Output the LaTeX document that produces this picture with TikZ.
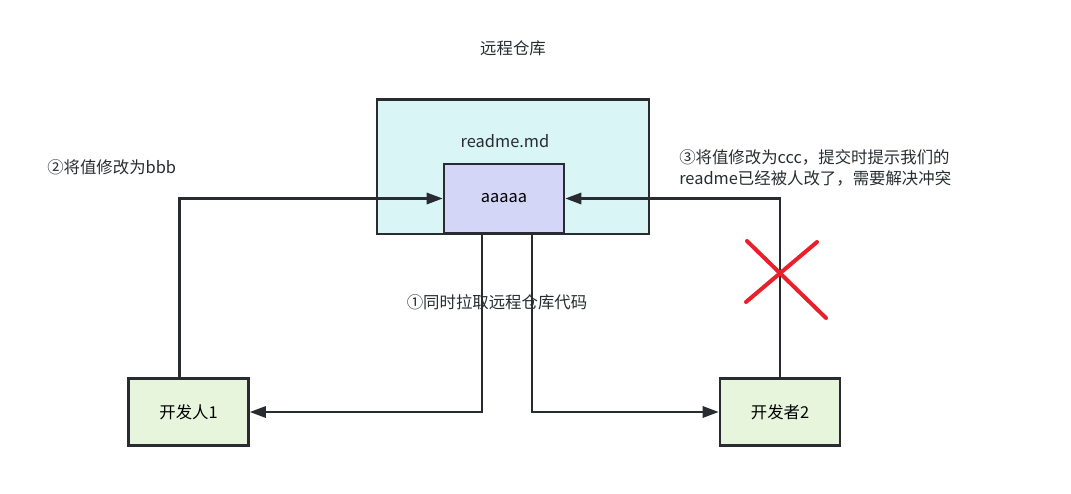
\documentclass[tikz,border=0pt]{standalone}
\usepackage{fontspec}
\setmainfont{Noto Sans CJK SC}
\usetikzlibrary{positioning,calc,arrows.meta}

\definecolor{repoFill}{RGB}{218,245,245}
\definecolor{fileFill}{RGB}{212,214,248}
\definecolor{devFill}{RGB}{230,245,220}
\definecolor{edge}{RGB}{40,44,48}
\definecolor{crossRed}{RGB}{232,32,42}

\begin{document}
\begin{tikzpicture}[
  x=0.75pt, y=-0.75pt,
  font=\fontsize{12.3}{15.75}\selectfont,
  box/.style={draw=edge, line width=2pt, align=center, inner sep=0pt},
  repo/.style={box, fill=repoFill, minimum width=204pt, minimum height=101pt},
  file/.style={box, fill=fileFill, minimum width=90pt, minimum height=52pt},
  dev/.style={box, fill=devFill, minimum width=90pt, minimum height=50pt},
  note/.style={text=edge, align=left, inner sep=0pt},
  arr/.style={-{Triangle[length=12pt,width=8.5pt]}, draw=edge, line width=1.6pt},
  cross/.style={draw=crossRed, line width=3pt, line cap=round}
]
\useasboundingbox (0,0) rectangle (1071,493);

\node[note] (repoTitle) at (513,48) {远程仓库};
\node[repo] (repo) at (513,166.5) {};
\node[note] (fileName) at (505,141) {readme.md};
\node[file] (file) at (504,198.5) {aaaaa};

\node[dev] (dev1) at (188.5,412) {开发人1};
\node[dev] (dev2) at (780,412) {开发者2};

\node[note, anchor=west] (step2) at (47,167) {②将值修改为bbb};
\node[note, anchor=west] (step3) at (679,168) {③将值修改为ccc，提交时提示我们的\\readme已经被人改了，需要解决冲突};
\node[note] (step1) at (497,302) {①同时拉取远程仓库代码};

% pull
\draw[arr] ($(file.south)+(-22,0)$) |- (dev1.east);
\draw[arr] ($(file.south)+(28,0)$) |- (dev2.west);

% push
\draw[arr] ($(dev1.north)+(-9,0)$) |- (file.west);
\draw[arr] (dev2.north) |- (file.east);

% rejected
\draw[cross] (747,241) -- (826,318);
\draw[cross] (817,242) -- (746,302);

\end{tikzpicture}
\end{document}
